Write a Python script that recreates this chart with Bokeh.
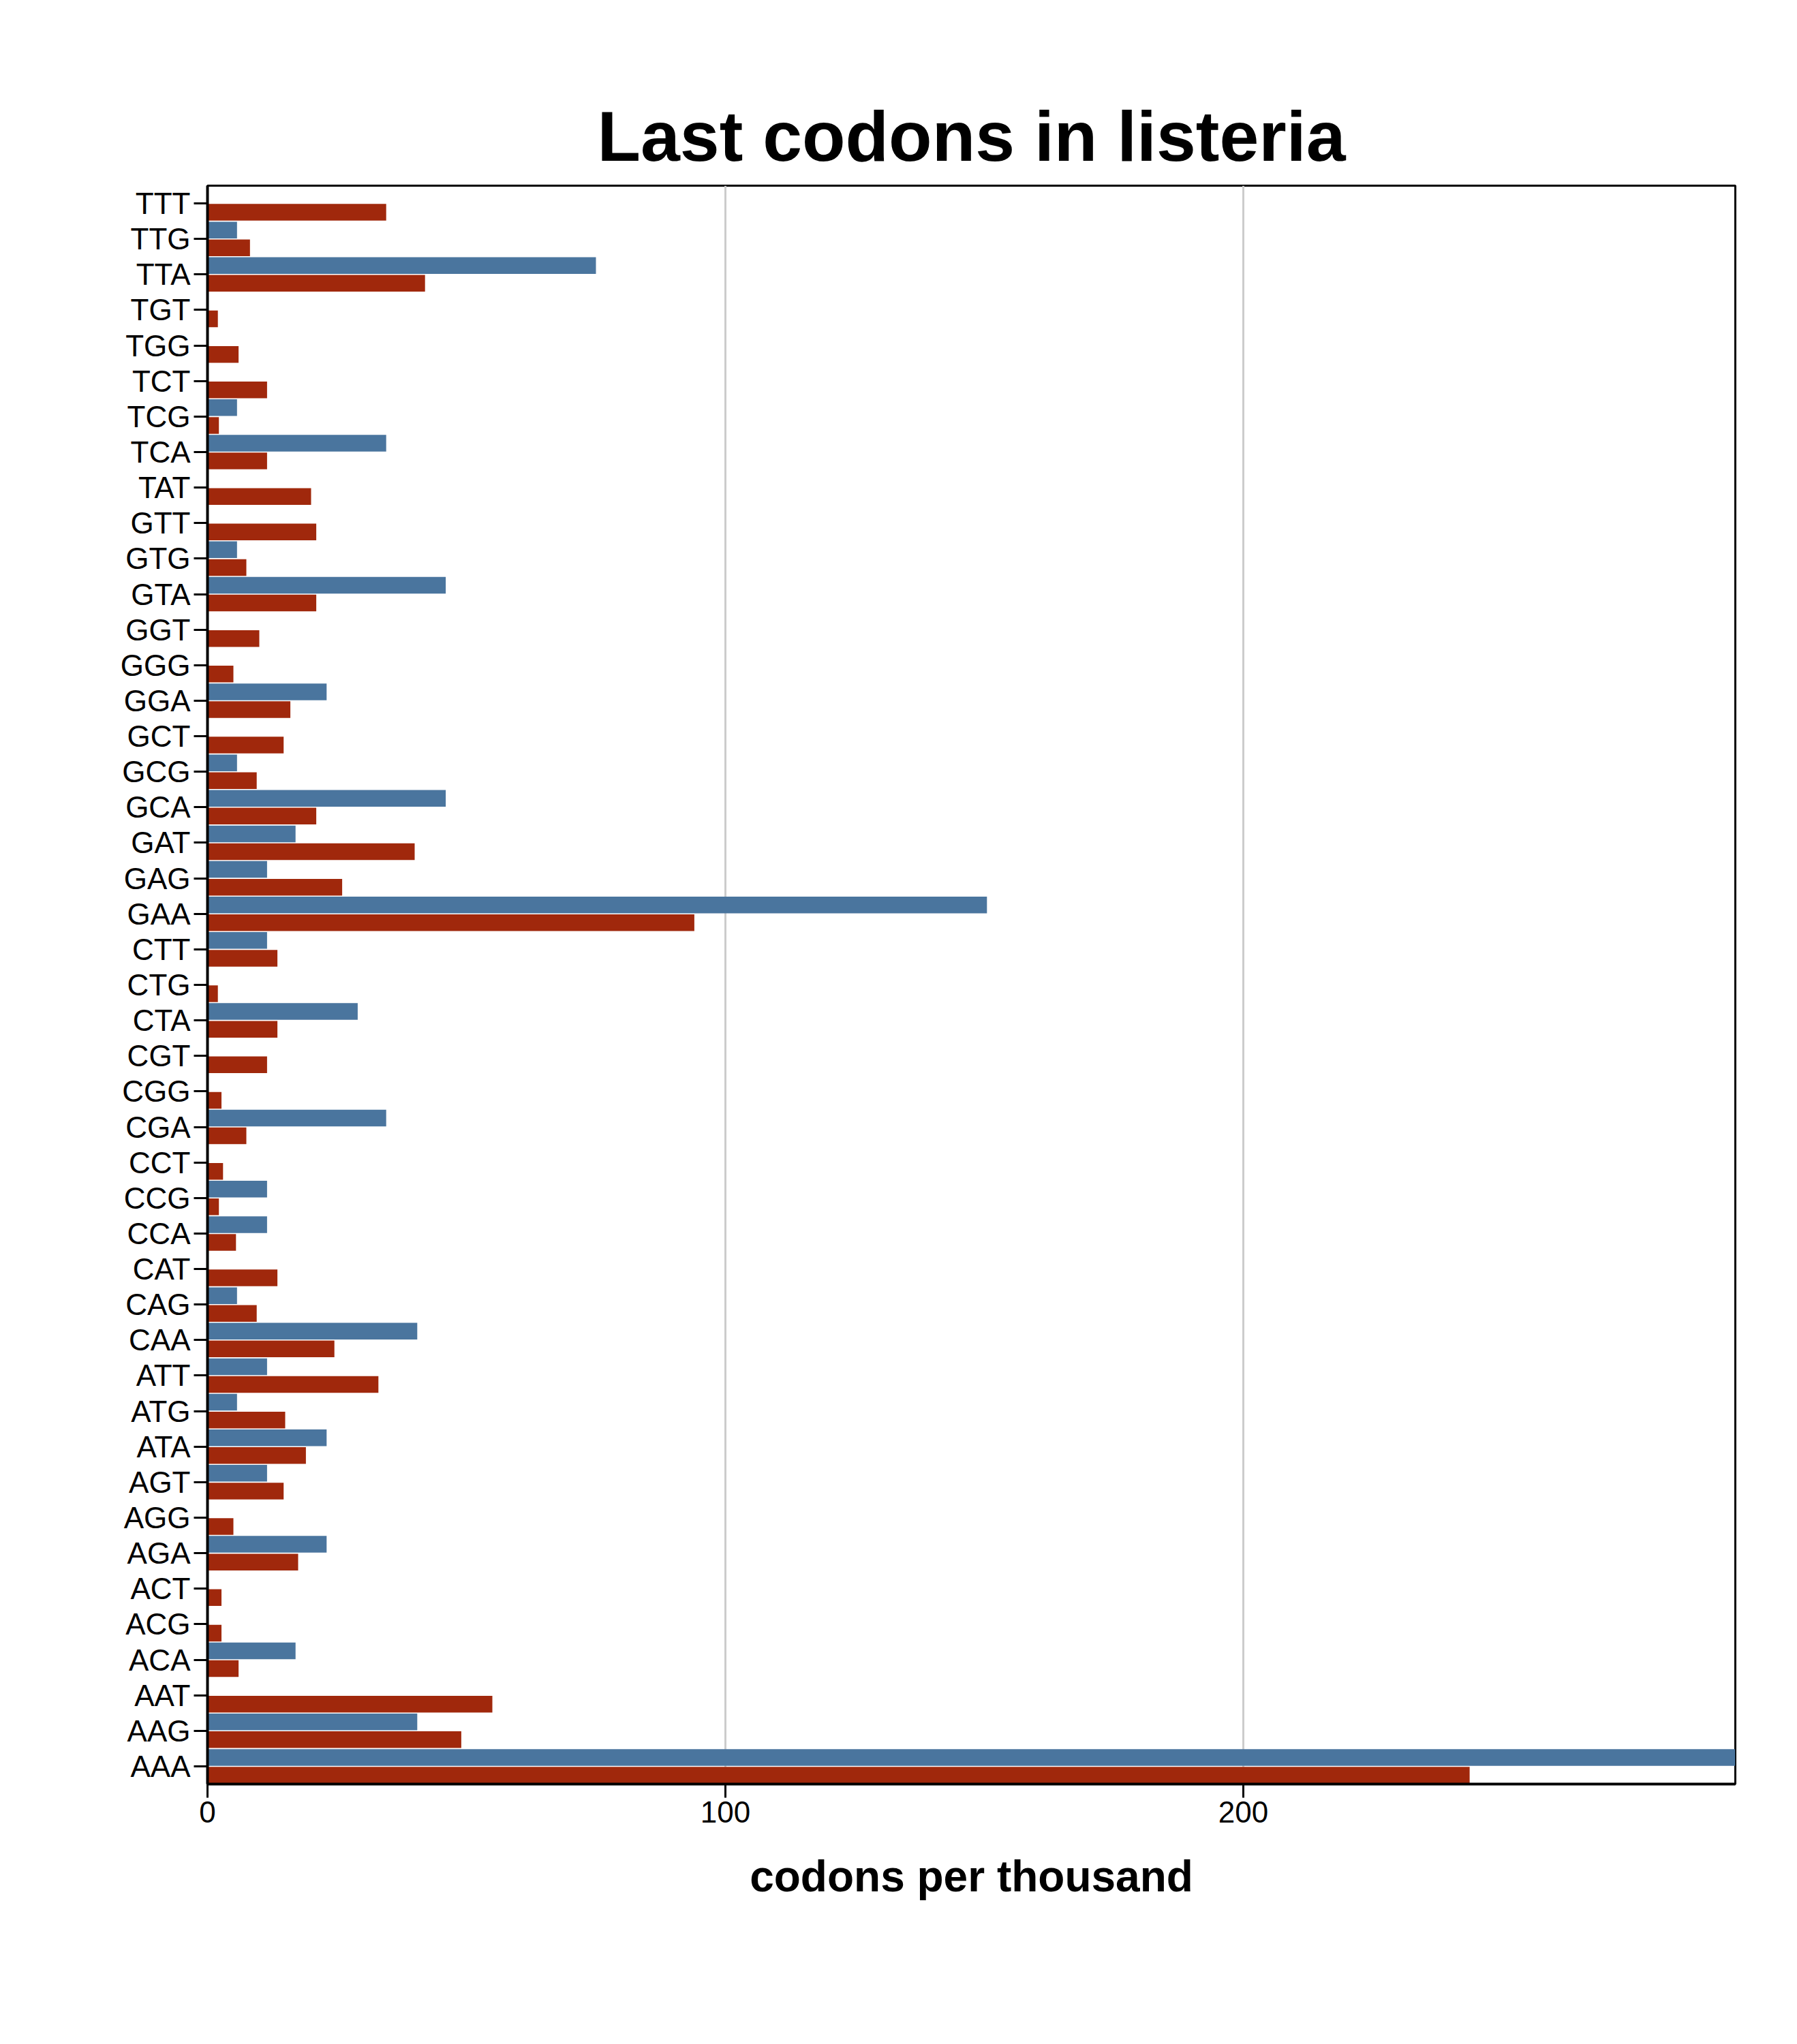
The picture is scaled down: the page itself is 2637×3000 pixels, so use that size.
from bokeh.plotting import figure
from bokeh.models import FactorRange, Range1d, Legend, LegendItem, ColumnDataSource
from bokeh.transform import dodge
from bokeh.embed import file_html
from bokeh.resources import INLINE

codons = ["TTT", "TTG", "TTA", "TGT", "TGG", "TCT", "TCG", "TCA", "TAT", "GTT",
          "GTG", "GTA", "GGT", "GGG", "GGA", "GCT", "GCG", "GCA", "GAT", "GAG",
          "GAA", "CTT", "CTG", "CTA", "CGT", "CGG", "CGA", "CCT", "CCG", "CCA",
          "CAT", "CAG", "CAA", "ATT", "ATG", "ATA", "AGT", "AGG", "AGA", "ACT",
          "ACG", "ACA", "AAT", "AAG", "AAA"]
not_c = [34.5, 8.2, 42, 2, 6, 11.5, 2.2, 11.5, 20, 21,
         7.5, 21, 10, 5, 16, 14.7, 9.5, 21, 40, 26,
         94, 13.5, 2, 13.5, 11.5, 2.7, 7.5, 3, 2.2, 5.5,
         13.5, 9.5, 24.5, 33, 15, 19, 14.7, 5, 17.5, 2.7,
         2.7, 6, 55, 49, 243.7]
nuga = [0, 5.7, 75, 0, 0, 0, 5.7, 34.5, 0, 0,
        5.7, 46, 0, 0, 23, 0, 5.7, 46, 17, 11.5,
        150.5, 11.5, 0, 29, 0, 0, 34.5, 0, 11.5, 11.5,
        0, 5.7, 40.5, 11.5, 5.7, 23, 11.5, 0, 23, 0,
        0, 17, 0, 40.5, 300]

src = ColumnDataSource(dict(codon=codons, not_c=not_c, nuga=nuga))
RED = "#a0280c"
BLUE = "#4a759e"
FONT = "Liberation Sans"

p = figure(y_range=FactorRange(*reversed(codons), range_padding=0),
           x_range=Range1d(0, 295),
           frame_width=2242, frame_height=2346,
           min_border_left=304, min_border_right=70, min_border_top=272,
           min_border_bottom=0,
           output_backend="svg", toolbar_location=None,
           title="Last codons in listeria")

r_red = p.hbar(y=dodge("codon", -0.25, range=p.y_range), right="not_c", left=0, height=0.47,
               source=src, fill_color=RED, line_color=None)
r_blue = p.hbar(y=dodge("codon", 0.25, range=p.y_range), right="nuga", left=0, height=0.47,
                source=src, fill_color=BLUE, line_color=None)

p.title.align = "center"
p.title.text_font = FONT
p.title.text_font_size = "104px"
p.title.text_font_style = "bold"
p.title.text_color = "black"
p.title.standoff = 30

p.outline_line_color = "black"
p.outline_line_width = 3
p.ygrid.grid_line_color = None
p.xgrid.grid_line_color = "#cccccc"
p.xgrid.grid_line_width = 3
p.xaxis.ticker = [0, 100, 200]
p.xaxis.minor_tick_line_color = None

for ax in (p.xaxis[0], p.yaxis[0]):
    ax.axis_line_width = 4
    ax.major_tick_line_width = 3
    ax.major_tick_out = 20
    ax.major_tick_in = 0
    ax.major_label_text_font = FONT
    ax.major_label_text_font_size = "44px"
    ax.major_label_text_color = "black"
p.xaxis.axis_label = "codons per thousand"
p.xaxis.axis_label_text_font = FONT
p.xaxis.axis_label_text_font_size = "64px"
p.xaxis.axis_label_text_font_style = "bold"
p.xaxis.axis_label_text_color = "black"
p.xaxis.axis_label_standoff = 40

legend = Legend(items=[LegendItem(label="Last codons not ending in C", renderers=[r_red]),
                       LegendItem(label="NUGA last codons", renderers=[r_blue])],
                orientation="horizontal", location="center",
                label_text_font=FONT, label_text_font_size="42px",
                glyph_width=12, glyph_height=42, border_line_color=None,
                margin=20, padding=10, spacing=30)
p.add_layout(legend, "below")

open("out.html", "w").write(file_html(p, INLINE))
